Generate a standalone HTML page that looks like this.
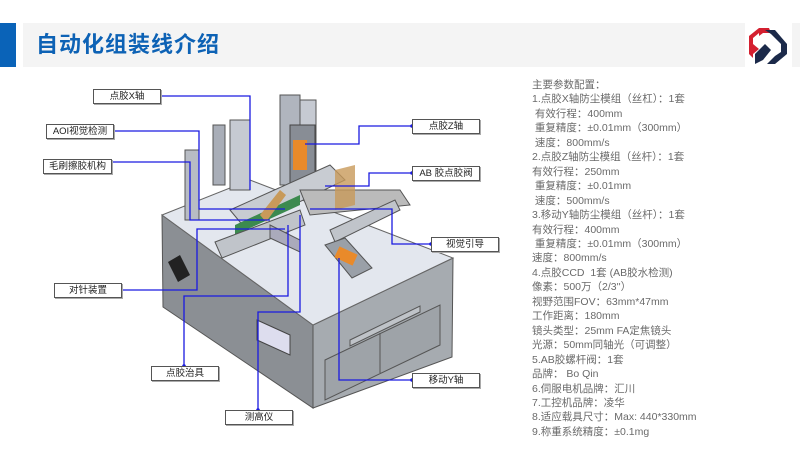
<!DOCTYPE html>
<html><head><meta charset="utf-8"><style>
body{margin:0;width:800px;height:450px;background:#fff;position:relative;overflow:hidden;font-family:"Liberation Sans","Noto Sans CJK SC",sans-serif}
.bar{position:absolute;left:0;top:23px;width:16px;height:44px;background:#0a63b8}
.hd{position:absolute;left:23px;top:23px;width:722px;height:44px;background:#f4f4f4}
.hd2{position:absolute;left:792px;top:23px;width:8px;height:44px;background:#f4f4f4}
.tt{position:absolute;left:36px;top:30px;font-size:22px;font-weight:bold;color:#0d62b5;line-height:30px;letter-spacing:1px}
.spec{position:absolute;left:532px;top:78px;font-size:10.5px;color:#6a6a6a;line-height:14.45px;white-space:pre}
.lb{position:absolute;height:13px;border:1px solid #555;background:#fff;font-size:9.5px;line-height:13px;text-align:center;color:#222;box-shadow:1px 1px 0 #aaa}
</style></head><body>
<div class="bar"></div><div class="hd"></div><div class="hd2"></div>
<div class="tt">自动化组装线介绍</div>
<svg style="position:absolute;left:745px;top:24px" width="46" height="44" viewBox="0 0 46 44">
<polygon points="4,12 14,4 14,9 8,14 8,20 14,25 8,30 8,34 4,30" fill="#d42030"/>
<polygon points="14,4 24,4 26,9 18,9 14,12" fill="#d42030"/>
<polygon points="20,6 30,6 42,20 42,30 30,40 22,40 30,32 36,28 36,20 26,10" fill="#1c2a4a"/>
<polygon points="10,30 20,20 26,26 18,36 10,40" fill="#1c2a4a"/>
</svg>
<div class="spec">主要参数配置：
1.点胶X轴防尘模组（丝杠）：1套
 有效行程：400mm
 重复精度：±0.01mm（300mm）
 速度：800mm/s
2.点胶Z轴防尘模组（丝杆）：1套
有效行程：250mm
 重复精度：±0.01mm
 速度：500mm/s
3.移动Y轴防尘模组（丝杆）：1套
有效行程：400mm
 重复精度：±0.01mm（300mm）
速度：800mm/s
4.点胶CCD  1套 (AB胶水检测)
像素：500万（2/3''）
视野范围FOV：63mm*47mm
工作距离：180mm
镜头类型：25mm FA定焦镜头
光源：50mm同轴光（可调整）
5.AB胶螺杆阀：1套
品牌： Bo Qin
6.伺服电机品牌：汇川
7.工控机品牌：凌华
8.适应载具尺寸：Max: 440*330mm
9.称重系统精度：±0.1mg</div>
<svg style="position:absolute;left:0;top:0" width="800" height="450">
<polygon points="162,215 313,325 313,408 163,307" fill="#8b8f94" stroke="#555" stroke-width="1"/>
<polygon points="313,325 453,258 452,357 313,408" fill="#a6abb0" stroke="#555" stroke-width="1"/>
<polygon points="162,215 250,180 453,258 313,325" fill="#e3e7ee" stroke="#666" stroke-width="1"/>
<polygon points="168,262 180,255 190,275 178,282" fill="#222"/>
<polygon points="325,360 440,305 440,345 325,400" fill="#9ea3a8" stroke="#555"/>
<line x1="380" y1="333" x2="380" y2="373" stroke="#555"/>
<polygon points="350,340 420,306 420,312 350,346" fill="#bfc3c8" stroke="#555"/>
<polygon points="257,320 290,335 290,355 257,340" fill="#dde" stroke="#444"/>
<rect x="185" y="150" width="14" height="70" fill="#b8bcc4" stroke="#555"/>
<rect x="213" y="125" width="12" height="60" fill="#a9aeb8" stroke="#555"/>
<rect x="230" y="120" width="20" height="70" fill="#c6cad2" stroke="#555"/>
<rect x="280" y="95" width="20" height="90" fill="#b0b5be" stroke="#555"/>
<rect x="300" y="100" width="16" height="80" fill="#c6cad2" stroke="#555"/>
<rect x="290" y="125" width="25" height="70" fill="#888d95" stroke="#444"/>
<rect x="293" y="140" width="14" height="30" fill="#e98a2a"/>
<polygon points="230,210 330,165 345,180 245,228" fill="#c8ccd2" stroke="#555"/>
<polygon points="235,225 300,195 300,205 235,235" fill="#3c8a4f"/>
<polygon points="300,190 400,190 410,205 310,215" fill="#bbb" stroke="#555"/>
<polygon points="215,242 300,210 305,225 222,258" fill="#c0c4ca" stroke="#555"/>
<polygon points="330,230 395,200 400,210 335,242" fill="#c0c4ca" stroke="#555"/>
<polygon points="325,245 345,238 372,268 352,278" fill="#9aa0a8" stroke="#555"/>
<rect x="336" y="250" width="20" height="12" fill="#e98a2a" transform="rotate(25 346 256)"/>
<polygon points="270,225 300,240 300,252 270,238" fill="#aab" stroke="#555"/>
<polygon points="260,215 280,190 286,195 266,222" fill="#c89a5a"/>
<polygon points="335,170 355,165 355,205 335,210" fill="#c89a5a" opacity=".8"/>
<g stroke="#1a1ae0" stroke-width="1.3" fill="none">
<polyline points="160,96 250,96 250,190"/>
<polyline points="113,131 199,131 199,209 285,209"/>
<polyline points="111,162 190,162 190,220 270,220"/>
<polyline points="412,126 359,126 359,144 305,144"/>
<polyline points="412,173 369,173 369,186 325,186"/>
<polyline points="431,244 392,244 392,209 310,209"/>
<polyline points="121,290 197,290 197,229 285,229"/>
<polyline points="184,366 184,296 288,296 288,225"/>
<polyline points="258,410 258,312 300,312 300,215"/>
<polyline points="412,380 339,380 339,258"/>
</g>
<g fill="#1a1ae0">
<circle cx="160" cy="96" r="1.8"/><circle cx="113" cy="131" r="1.8"/><circle cx="111" cy="162" r="1.8"/>
<circle cx="412" cy="126" r="1.8"/><circle cx="412" cy="173" r="1.8"/><circle cx="431" cy="244" r="1.8"/>
<circle cx="121" cy="290" r="1.8"/><circle cx="184" cy="366" r="1.8"/><circle cx="258" cy="410" r="1.8"/><circle cx="412" cy="380" r="1.8"/>
</g>
</svg>
<div class="lb" style="left:93px;top:89px;width:66px">点胶X轴</div>
<div class="lb" style="left:46px;top:124px;width:66px">AOI视觉检测</div>
<div class="lb" style="left:43px;top:159px;width:67px">毛刷擦胶机构</div>
<div class="lb" style="left:412px;top:119px;width:66px">点胶Z轴</div>
<div class="lb" style="left:412px;top:166px;width:66px">AB 胶点胶阀</div>
<div class="lb" style="left:431px;top:237px;width:66px">视觉引导</div>
<div class="lb" style="left:54px;top:283px;width:66px">对针装置</div>
<div class="lb" style="left:151px;top:366px;width:66px">点胶治具</div>
<div class="lb" style="left:225px;top:410px;width:66px">测高仪</div>
<div class="lb" style="left:412px;top:373px;width:66px">移动Y轴</div>
</body></html>
